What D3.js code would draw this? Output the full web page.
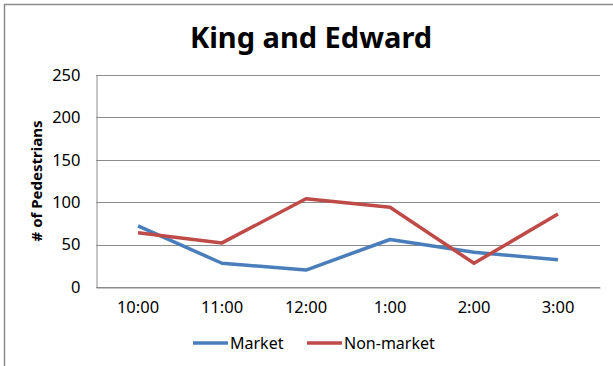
<!DOCTYPE html>
<html>
<head>
<meta charset="utf-8">
<script src="https://cdn.jsdelivr.net/npm/d3@7"></script>
<style>
  html, body { margin: 0; padding: 0; background: #fff; }
  svg { display: block; }
</style>
</head>
<body>
<svg id="chart" width="613" height="366"></svg>
<script>
// Pedestrian counts at King and Edward, by hour
const times = ["10:00", "11:00", "12:00", "1:00", "2:00", "3:00"];
const market = [72, 28, 20, 56, 41, 32];
const nonMarket = [64, 52, 104, 94, 28, 86];
const yTicks = [0, 50, 100, 150, 200, 250];

const series = [
  { name: "Market", values: market, color: "#4a7ebb" },
  { name: "Non-market", values: nonMarket, color: "#be4b48" }
];

const svg = d3.select("#chart");
const font = "'Noto Sans', 'Open Sans', sans-serif";

// chart frame (top and left edges visible)
svg.append("path")
  .attr("d", "M4.5,366 V4.5 H613")
  .attr("fill", "none")
  .attr("stroke", "#8c8c8c")
  .attr("stroke-width", 1.5);

const plot = { left: 96, right: 600, top: 75, bottom: 287 };

const x = d3.scaleBand().domain(times).range([plot.left, plot.right]);
const y = d3.scaleLinear().domain([0, 250]).range([plot.bottom, plot.top]);

// title
svg.append("text")
  .attr("x", 311).attr("y", 48)
  .attr("text-anchor", "middle")
  .attr("font-family", font)
  .attr("font-weight", "bold")
  .attr("font-size", 29)
  .attr("fill", "#000")
  .text("King and Edward");

// horizontal gridlines
svg.append("g")
  .selectAll("line")
  .data(yTicks)
  .join("line")
  .attr("x1", plot.left).attr("x2", plot.right)
  .attr("y1", d => Math.round(y(d)) + 0.5).attr("y2", d => Math.round(y(d)) + 0.5)
  .attr("stroke", "#8c8c8c")
  .attr("stroke-width", 1);

// y axis
const yAxis = svg.append("g")
  .attr("transform", `translate(${plot.left + 0.5},0)`)
  .call(d3.axisLeft(y).tickValues(yTicks).tickSize(0).tickPadding(16));
yAxis.select(".domain").attr("stroke", "#8c8c8c");
yAxis.selectAll("text")
  .attr("font-family", font).attr("font-size", 16.5).attr("fill", "#000");

// x axis
const xAxis = svg.append("g")
  .attr("transform", `translate(0,${Math.round(y(0)) + 0.5})`)
  .call(d3.axisBottom(x).tickSize(0).tickPadding(14));
xAxis.select(".domain").attr("stroke", "#8c8c8c");
xAxis.selectAll("text")
  .attr("font-family", font).attr("font-size", 16.5).attr("fill", "#000");

// y axis title
svg.append("text")
  .attr("transform", "translate(42,181) rotate(-90)")
  .attr("text-anchor", "middle")
  .attr("font-family", font)
  .attr("font-weight", "bold")
  .attr("font-size", 15)
  .attr("fill", "#000")
  .text("# of Pedestrians");

// series lines
const line = d3.line()
  .x((d, i) => x(times[i]) + x.bandwidth() / 2)
  .y(d => y(d));

svg.append("g")
  .selectAll("path")
  .data(series)
  .join("path")
  .attr("d", d => line(d.values))
  .attr("fill", "none")
  .attr("stroke", d => d.color)
  .attr("stroke-width", 3.5)
  .attr("stroke-linejoin", "round");

// legend
const legendX = [193, 307];
const legend = svg.append("g")
  .selectAll("g")
  .data(series)
  .join("g")
  .attr("transform", (d, i) => `translate(${legendX[i]},343)`);
legend.append("line")
  .attr("x1", 0).attr("x2", 35)
  .attr("stroke", d => d.color)
  .attr("stroke-width", 3.5);
legend.append("text")
  .attr("x", 37).attr("y", 6)
  .attr("font-family", font)
  .attr("font-size", 16)
  .attr("fill", "#000")
  .text(d => d.name);
</script>
</body>
</html>
